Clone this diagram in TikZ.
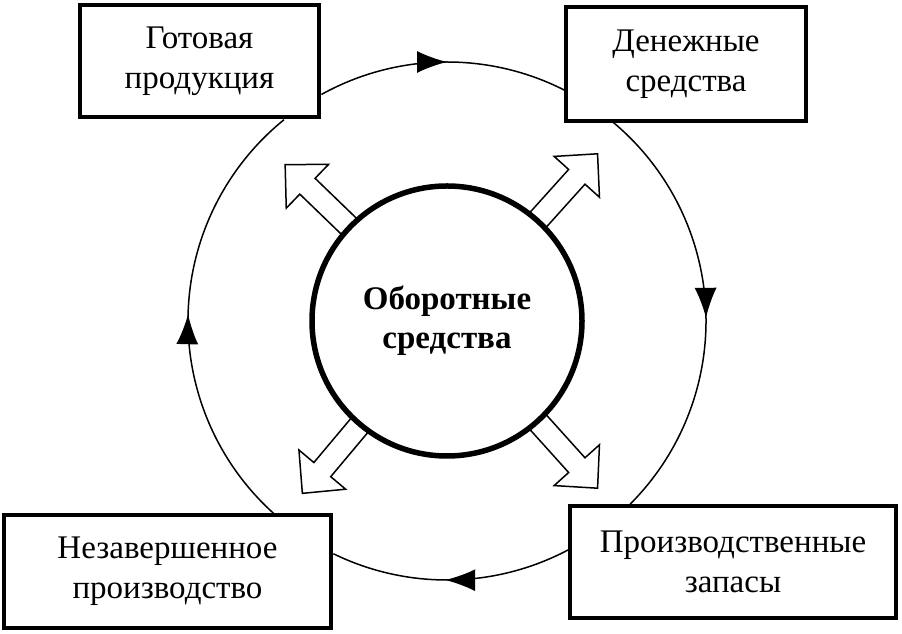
\documentclass[tikz,border=0pt]{standalone}
\usepackage{fontspec}
\setmainfont{Liberation Serif}
\usetikzlibrary{arrows.meta}
\usetikzlibrary{calc}
\usetikzlibrary{decorations.markings}

\begin{document}
\begin{tikzpicture}[x=1pt, y=1pt,
    box/.style = {draw, line width=4.5pt, fill=white, align=center, inner sep=0pt, font=\fontsize{33}{40}\selectfont},
    hub/.style = {draw, circle, line width=5.5pt, fill=white, minimum size=270pt, inner sep=0pt, align=center, font=\fontsize{33}{39}\selectfont\bfseries},
    hollow/.style = {draw, line width=1.5pt, fill=white},
    spoke/.style = {shift={(o)}, rotate=#1},
    cyc/.style = {line width=1.5pt, postaction={decorate}, decoration={markings, mark=at position #1 with {\arrow{Latex[length=30pt, width=22pt]}}}}]

    \useasboundingbox (0,0) rectangle (902,634);
    \coordinate (o) at (447,313);

    \node[box, minimum width=239pt, minimum height=112pt] (gp) at (199.5,573) {Готовая\\продукция};
    \node[box, minimum width=240pt, minimum height=114pt] (ds) at (686,570) {Денежные\\средства};
    \node[box, minimum width=326pt, minimum height=112pt] (pz) at (733,72) {Производственные\\запасы};
    \node[box, minimum width=327pt, minimum height=113pt] (np) at (167.5,62.5) {Незавершенное\\производство};

    % hollow arrows out of the hub
    \draw[hollow, spoke=48] (120,-11) -- (194,-11) -- (194,-30.5) -- (225,0) -- (194,30.5) -- (194,11) -- (120,11) -- cycle;
    \draw[hollow, spoke=136] (120,-11) -- (194,-11) -- (194,-30.5) -- (225,0) -- (194,30.5) -- (194,11) -- (120,11) -- cycle;
    \draw[hollow, spoke=230] (120,-11) -- (194,-11) -- (194,-30.5) -- (225,0) -- (194,30.5) -- (194,11) -- (120,11) -- cycle;
    \draw[hollow, spoke=312] (120,-11) -- (194,-11) -- (194,-30.5) -- (225,0) -- (194,30.5) -- (194,11) -- (120,11) -- cycle;

    \node[hub] (os) at (o) {Оборотные\\средства};

    % the cycle round the boxes
    \coordinate (gpout) at ($(o)+(119:259pt)$);
    \coordinate (dsout) at ($(o)+(50:259pt)$);
    \coordinate (pzout) at ($(o)+(-62:259pt)$);
    \coordinate (npout) at ($(o)+(228:259pt)$);

    \draw[cyc=0.518] (gpout) arc[start angle=119, end angle=63, radius=259pt];
    \draw[cyc=0.519] (dsout) arc[start angle=50, end angle=-45, radius=259pt];
    \draw[cyc=0.526] (pzout) arc[start angle=-62, end angle=-116, radius=259pt];
    \draw[cyc=0.5] (npout) arc[start angle=228, end angle=129, radius=259pt];
\end{tikzpicture}
\end{document}
